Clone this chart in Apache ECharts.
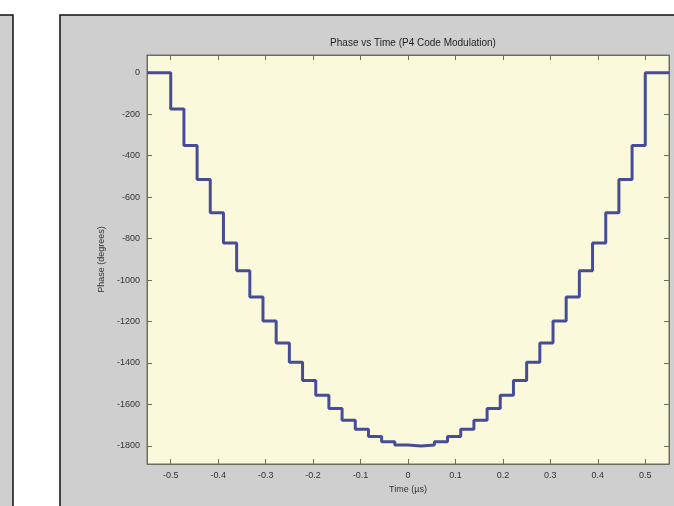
<!DOCTYPE html>
<html>
<head>
<meta charset="utf-8">
<title>Phase vs Time (P4 Code Modulation)</title>
<script src="https://cdn.jsdelivr.net/npm/echarts@6/dist/echarts.min.js"></script>
<style>
  html, body { margin: 0; padding: 0; background: #ffffff; }
  #main { width: 674px; height: 506px; }
</style>
</head>
<body>
<div id="main"></div>
<script>
// chip start times (µs), with the flat 0 lead-in / lead-out
const timeUs = [
  -0.55, -0.5, -0.4722, -0.4444, -0.4167, -0.3889, -0.3611, -0.3333, -0.3056,
  -0.2778, -0.25, -0.2222, -0.1944, -0.1667, -0.1389, -0.1111, -0.0833, -0.0556,
  -0.0278, 0, 0.0278, 0.0556, 0.0833, 0.1111, 0.1389, 0.1667, 0.1944, 0.2222,
  0.25, 0.2778, 0.3056, 0.3333, 0.3611, 0.3889, 0.4167, 0.4444, 0.4722, 0.5, 0.55
];
// phase of each chip (degrees)
const phaseDeg = [
  0, -175, -351, -515, -675, -821, -955, -1082, -1197,
  -1303, -1397, -1485, -1555, -1620, -1676, -1720, -1755, -1780,
  -1795, -1800, -1795, -1780, -1755, -1720, -1676, -1620, -1555, -1485,
  -1397, -1303, -1197, -1082, -955, -821, -675, -515, -351, 0, 0
];
const xTicks = [-0.5, -0.4, -0.3, -0.2, -0.1, 0, 0.1, 0.2, 0.3, 0.4, 0.5];
const yTicks = [0, -200, -400, -600, -800, -1000, -1200, -1400, -1600, -1800];

const chart = echarts.init(document.getElementById('main'));

const axisCol = '#6e6e5e';
const labelCol = '#333333';
const font = 'Liberation Sans, Arial, sans-serif';

const points = timeUs.map((t, i) => [t, phaseDeg[i]]);

const option = {
  backgroundColor: '#ffffff',
  animation: false,
  graphic: [
    {
      type: 'rect', z: -10,
      shape: { x: -5, y: 15, width: 18, height: 500 },
      style: { fill: '#cfcfcf', stroke: '#111111', lineWidth: 1.5 }
    },
    {
      type: 'rect', z: -10,
      shape: { x: 60, y: 15, width: 620, height: 500 },
      style: { fill: '#cfcfcf', stroke: '#111111', lineWidth: 1.5 }
    }
  ],
  title: {
    text: 'Phase vs Time (P4 Code Modulation)',
    left: 408, top: 33, textAlign: 'center',
    textStyle: { fontFamily: font, fontSize: 10, fontWeight: 'normal', color: '#1e1e1e' }
  },
  grid: {
    left: 147, right: 5, top: 55, bottom: 42,
    show: true, backgroundColor: '#fbf9dc', borderColor: axisCol, borderWidth: 1
  },
  xAxis: [
    {
      type: 'value', min: -0.55, max: 0.55, position: 'bottom',
      name: 'Time (µs)', nameLocation: 'middle', nameGap: 21,
      nameTextStyle: { fontFamily: font, fontSize: 9, color: labelCol },
      axisLine: { show: true, onZero: false, lineStyle: { color: axisCol, width: 1 } },
      axisTick: { show: true, inside: true, length: 5, customValues: xTicks, lineStyle: { color: axisCol } },
      axisLabel: { customValues: xTicks, formatter: v => String(v), fontFamily: font, fontSize: 9, color: labelCol, margin: 7 },
      splitLine: { show: false }
    },
    {
      type: 'value', min: -0.55, max: 0.55, position: 'top',
      axisLine: { show: true, onZero: false, lineStyle: { color: axisCol, width: 1 } },
      axisTick: { show: true, inside: true, length: 5, customValues: xTicks, lineStyle: { color: axisCol } },
      axisLabel: { show: false },
      splitLine: { show: false }
    }
  ],
  yAxis: [
    {
      type: 'value', min: -1887, max: 85, position: 'left',
      name: 'Phase (degrees)', nameLocation: 'middle', nameGap: 40, nameRotate: 90,
      nameTextStyle: { fontFamily: font, fontSize: 9, color: labelCol },
      axisLine: { show: true, onZero: false, lineStyle: { color: axisCol, width: 1 } },
      axisTick: { show: true, inside: true, length: 5, customValues: yTicks, lineStyle: { color: axisCol } },
      axisLabel: { customValues: yTicks, formatter: v => String(v), fontFamily: font, fontSize: 9, color: labelCol, margin: 7 },
      splitLine: { show: false }
    },
    {
      type: 'value', min: -1887, max: 85, position: 'right',
      axisLine: { show: true, onZero: false, lineStyle: { color: axisCol, width: 1 } },
      axisTick: { show: true, inside: true, length: 5, customValues: yTicks, lineStyle: { color: axisCol } },
      axisLabel: { show: false },
      splitLine: { show: false }
    }
  ],
  series: [
    {
      type: 'line',
      xAxisIndex: 0, yAxisIndex: 0,
      step: 'end',
      data: points,
      showSymbol: false,
      lineStyle: { color: '#474c96', width: 3 }
    }
  ]
};

chart.setOption(option);
</script>
</body>
</html>
